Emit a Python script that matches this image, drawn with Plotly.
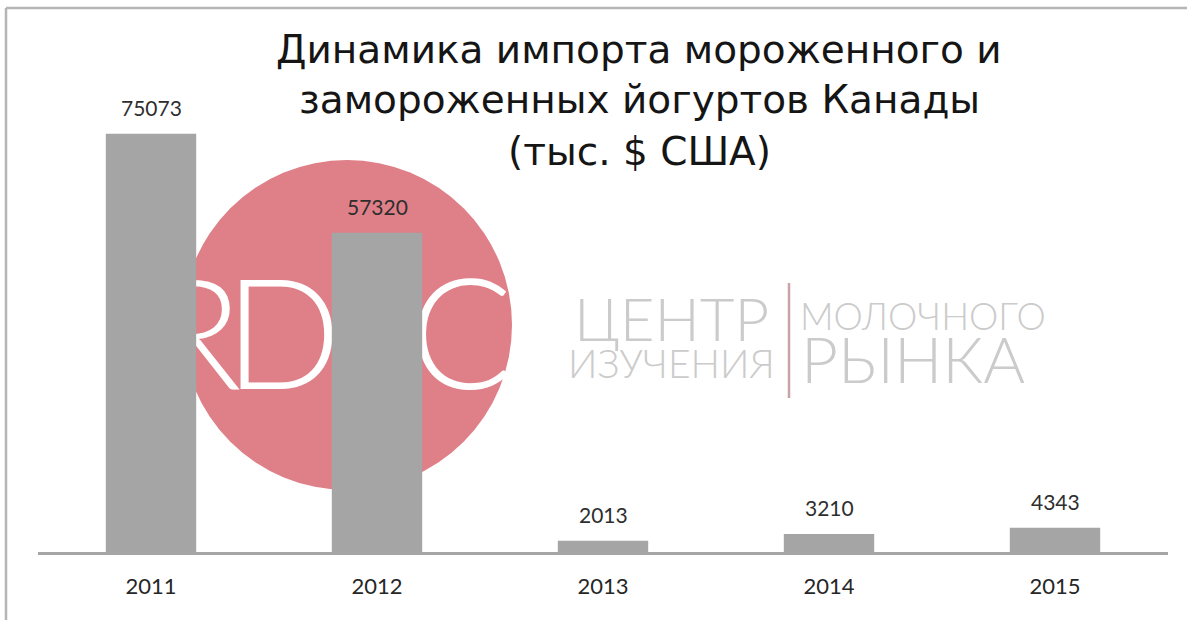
import plotly.graph_objects as go

years = ["2011", "2012", "2013", "2014", "2015"]
values = [75073, 57320, 2013, 3210, 4343]
title_lines = ["Динамика импорта мороженного и", "замороженных йогуртов Канады", "(тыс. $ США)"]
logo_letters = ["R", "D", "R", "C"]

W, H = 1187, 620
L, R, T, B = 38, 19, 10, 68
PW, PH = W - L - R, H - T - B

def px(xp):
    return (xp - L) / PW

def py(yp):
    return (H - B - yp) / PH

fig = go.Figure()

# watermark letters (base subplot in pixel coordinates, drawn below bars)
fig.add_trace(go.Scatter(
    x=[195, 283, 372, 461], y=[350, 350, 350, 350],
    text=logo_letters, mode="text",
    textfont=dict(family="Lato", size=154, color="white", weight=300),
    xaxis="x", yaxis="y", hoverinfo="skip", showlegend=False, cliponaxis=False,
))

# bars (overlay subplot, drawn above)
fig.add_trace(go.Bar(
    x=years, y=values, xaxis="x2", yaxis="y2",
    marker=dict(color="#a5a5a5", line=dict(width=0)),
    showlegend=False, hoverinfo="skip",
))

annotations = []
for i, v in enumerate(values):
    annotations.append(dict(
        x=i, y=v, xref="x2", yref="y2", text=str(v), showarrow=False,
        yanchor="bottom", yshift=12,
        font=dict(family="Lato", size=21, color="#2e2e2e"),
    ))

title_y = [49, 99, 151]
for line, ty in zip(title_lines, title_y):
    annotations.append(dict(
        x=639, y=ty, xref="x", yref="y", text=line, showarrow=False,
        xanchor="center", yanchor="middle",
        font=dict(family="DejaVu Sans", size=39, color="#151515"),
    ))

gray = "#cbcbcb"
annotations += [
    dict(x=671, y=318, xref="x", yref="y", text="ЦЕНТР", showarrow=False,
         font=dict(family="Lato", size=60, color=gray, weight=300)),
    dict(x=671, y=363, xref="x", yref="y", text="ИЗУЧЕНИЯ", showarrow=False,
         font=dict(family="Lato", size=39, color=gray, weight=300)),
    dict(x=923, y=315, xref="x", yref="y", text="МОЛОЧНОГО", showarrow=False,
         font=dict(family="Lato", size=37, color=gray, weight=300)),
    dict(x=913, y=358, xref="x", yref="y", text="РЫНКА", showarrow=False,
         font=dict(family="Lato", size=64, color=gray, weight=300)),
]

shapes = [
    dict(type="circle", xref="x", yref="y", x0=182, x1=512, y0=160, y1=490,
         fillcolor="#df7f88", line=dict(width=0), layer="below"),
    dict(type="line", xref="x", yref="y", x0=789, x1=789, y0=283, y1=398,
         line=dict(color="#c9a3a6", width=2.5), layer="below"),
    # frame
    dict(type="line", xref="paper", yref="paper", x0=px(6), x1=px(6), y0=py(8), y1=py(625),
         line=dict(color="#b5b5b5", width=2.5)),
    dict(type="line", xref="paper", yref="paper", x0=px(6), x1=px(1190), y0=py(8), y1=py(8),
         line=dict(color="#b5b5b5", width=2.5)),
]

fig.update_layout(
    width=W, height=H,
    margin=dict(l=L, r=R, t=T, b=B, pad=0),
    paper_bgcolor="white", plot_bgcolor="rgba(0,0,0,0)",
    bargap=0.6,
    xaxis=dict(range=[L, W - R], visible=False, fixedrange=True),
    yaxis=dict(range=[H - B, T], visible=False, fixedrange=True),
    xaxis2=dict(overlaying="x", anchor="y2", type="category", range=[-0.5, 4.5],
                showline=True, linecolor="#a6a6a6", linewidth=3, showgrid=False,
                zeroline=False, ticks="", ticklabelstandoff=13,
                tickfont=dict(family="Lato", size=22, color="#262626")),
    yaxis2=dict(overlaying="y", anchor="x2", range=[0, 97300], visible=False),
    annotations=annotations,
    shapes=shapes,
)

fig.write_html("out.html", config={"displayModeBar": False},
               post_script="document.body.style.margin='0';")
